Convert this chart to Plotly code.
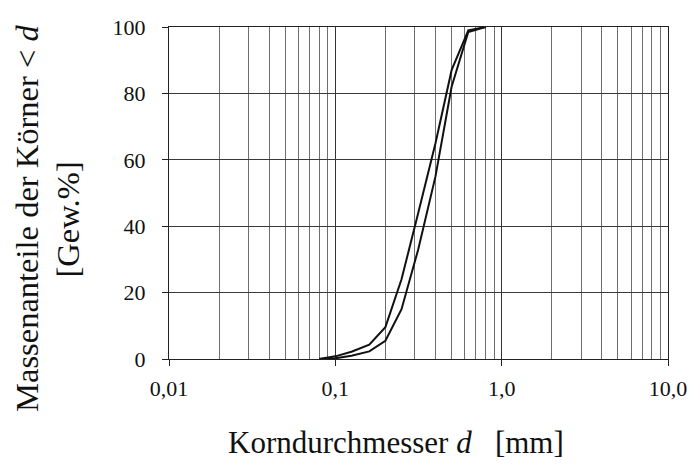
import plotly.graph_objects as go

# Sieve sizes [mm]
d_upper = [0.08, 0.1, 0.125, 0.16, 0.2, 0.25, 0.315, 0.4, 0.5, 0.63, 0.8]
p_upper = [0.0, 0.8, 2.2, 4.3, 9.6, 24.0, 44.0, 65.0, 87.0, 99.0, 100.0]

d_lower = [0.08, 0.1, 0.125, 0.16, 0.2, 0.25, 0.315, 0.4, 0.5, 0.63, 0.8]
p_lower = [0.0, 0.2, 1.0, 2.3, 5.5, 15.0, 33.0, 55.0, 82.0, 98.5, 100.0]

major_vals = [0.01, 0.1, 1.0, 10.0]
major_text = ["0,01", "0,1", "1,0", "10,0"]
minor_vals = [m * 10.0**e for e in (-2, -1, 0) for m in range(2, 10)]
y_ticks = [0, 20, 40, 60, 80, 100]

FONT = "Liberation Serif"

fig = go.Figure()
for xs, ys in ((d_upper, p_upper), (d_lower, p_lower)):
    fig.add_trace(go.Scatter(x=xs, y=ys, mode="lines",
                             line=dict(color="#111111", width=2),
                             showlegend=False, hoverinfo="skip"))

fig.update_layout(
    width=690, height=464,
    margin=dict(l=169, r=22, t=27, b=105, autoexpand=False),
    paper_bgcolor="white", plot_bgcolor="white",
    font=dict(family=FONT, size=22, color="#111111"),
    xaxis=dict(
        type="log", range=[-2, 1], automargin=False,
        tickmode="array", tickvals=major_vals, ticktext=major_text,
        ticks="outside", ticklen=6, tickwidth=1, tickcolor="#222",
        ticklabelstandoff=3,
        showgrid=True, gridcolor="#333333", gridwidth=1,
        minor=dict(tickmode="array", tickvals=minor_vals, showgrid=True,
                   gridcolor="#6e6e6e", gridwidth=1, ticks=""),
        showline=True, linecolor="#222", linewidth=1.2, mirror=True,
        zeroline=False,
    ),
    yaxis=dict(
        range=[0, 100], tickmode="array", tickvals=y_ticks, automargin=False,
        ticks="outside", ticklen=6, tickwidth=1, tickcolor="#222",
        ticklabelstandoff=12,
        showgrid=True, gridcolor="#3a3a3a", gridwidth=1,
        showline=True, linecolor="#222", linewidth=1.2, mirror=True,
        zeroline=False,
    ),
    annotations=[
        dict(text="Korndurchmesser <i>d</i>&nbsp;&nbsp;&nbsp;[mm]",
             xref="paper", yref="paper", x=0.455, y=-0.25,
             xanchor="center", yanchor="middle", showarrow=False,
             font=dict(family=FONT, size=31, color="#111111")),
        dict(text="Massenanteile der Körner &lt; <i>d</i>",
             xref="paper", yref="paper", x=-0.2846, y=0.425,
             xanchor="center", yanchor="middle", showarrow=False,
             textangle=-90,
             font=dict(family=FONT, size=32.5, color="#111111")),
        dict(text="[Gew.%]",
             xref="paper", yref="paper", x=-0.2024, y=0.42,
             xanchor="center", yanchor="middle", showarrow=False,
             textangle=-90,
             font=dict(family=FONT, size=32.5, color="#111111")),
    ],
)

fig.write_html("out.html")
